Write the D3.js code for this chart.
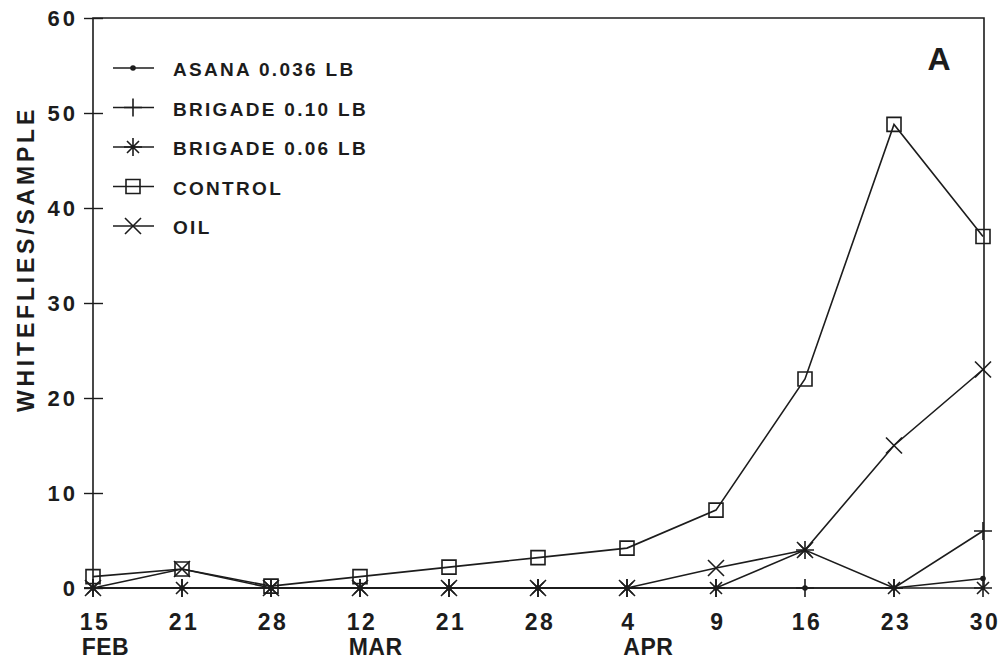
<!DOCTYPE html>
<html>
<head>
<meta charset="utf-8">
<script src="https://cdn.jsdelivr.net/npm/d3@7"></script>
<style>
  body { margin: 0; background: #fff; }
  text { font-family: "Liberation Sans", Arial, sans-serif; font-weight: bold; fill: #1c1c1c; }
</style>
</head>
<body>
<div id="vis"></div>
<script>
// sample dates (evenly spaced on the axis)
var days = ['15', '21', '28', '12', '21', '28', '4', '9', '16', '23', '30'];
var months = ['FEB', '', '', 'MAR', '', '', 'APR', '', '', '', ''];
var yTicks = [0, 10, 20, 30, 40, 50, 60];

// whiteflies per sample
var asana = [0, 0, 0, 0, 0, 0, 0, 0, 0, 0, 1];
var brigade10 = [0, 0, 0, 0, 0, 0, 0, 0, 0, 0, 6];
var brigade06 = [0, 0, 0, 0, 0, 0, 0, 0, 4, 0, 0];
var control = [1.2, 2, 0.2, 1.2, 2.2, 3.2, 4.2, 8.2, 22, 48.8, 37];
var oil = [0, 2, 0, 0, 0, 0, 0, 2.1, 4, 15, 23];

var seriesNames = ['ASANA 0.036 LB', 'BRIGADE 0.10 LB', 'BRIGADE 0.06 LB', 'CONTROL', 'OIL'];
var seriesMarks = ['dot', 'plus', 'star', 'square', 'cross'];

var width = 1002;
var height = 660;
var ink = '#1c1c1c';
var font = '"Liberation Sans", Arial, sans-serif';

var svg = d3.select('#vis').append('svg')
  .attr('width', width)
  .attr('height', height);

var x = d3.scalePoint()
  .domain(d3.range(days.length))
  .range([93, 983]);

var y = d3.scaleLinear()
  .domain([0, 60])
  .range([588, 18]);

// marker shapes as path strings, centred on 0,0
function markPath(kind) {
  if (kind === 'plus') return 'M-9,0H9M0,-9V9';
  if (kind === 'cross') return 'M-8,-8L8,8M-8,8L8,-8';
  if (kind === 'star') return 'M-9,0H9M0,-9V9M-6,-6L6,6M-6,6L6,-6';
  if (kind === 'square') return 'M-7,-7H7V7H-7Z';
  return '';
}

function drawMark(g, kind, cx, cy) {
  if (kind === 'dot') {
    g.append('circle')
      .attr('cx', cx).attr('cy', cy).attr('r', 2.8)
      .attr('fill', ink);
  } else {
    g.append('path')
      .attr('d', markPath(kind))
      .attr('transform', 'translate(' + cx + ',' + cy + ')')
      .attr('fill', 'none')
      .attr('stroke', ink)
      .attr('stroke-width', 1.6);
  }
}

// frame
svg.append('path')
  .attr('d', 'M' + x(0) + ',' + y(0) + 'V' + y(60) + 'H' + (x(10) + 1) + 'V' + y(0))
  .attr('fill', 'none')
  .attr('stroke', ink)
  .attr('stroke-width', 1.6);

// y axis: ticks cross the axis line
var yAxis = svg.append('g')
  .attr('transform', 'translate(' + x(0) + ',0)')
  .call(d3.axisLeft(y).tickValues(yTicks).tickSize(0).tickPadding(15));
yAxis.select('.domain').remove();
yAxis.selectAll('.tick').append('line')
  .attr('x1', -9).attr('x2', 10)
  .attr('stroke', ink).attr('stroke-width', 1.4);
yAxis.selectAll('.tick text')
  .style('font-size', '22px')
  .style('letter-spacing', '3px')
  .style('font-family', font)
  .style('font-weight', 'bold')
  .attr('fill', ink);

// x axis labels (days and months)
var xAxis = svg.append('g')
  .attr('transform', 'translate(0,' + y(0) + ')')
  .call(d3.axisBottom(x).tickFormat(function (i) { return days[i]; }).tickSize(0).tickPadding(26));
xAxis.select('.domain').remove();
xAxis.selectAll('.tick text')
  .attr('dx', 1.5)
  .style('font-size', '23px')
  .style('letter-spacing', '2.5px')
  .style('font-family', font)
  .style('font-weight', 'bold')
  .attr('fill', ink);

xAxis.selectAll('.tick').each(function (i) {
  if (!months[i]) return;
  var bb = d3.select(this).select('text').node().getBBox();
  d3.select(this).append('text')
    .attr('x', bb.x + 2)
    .attr('y', 67)
    .attr('text-anchor', 'start')
    .attr('fill', ink)
    .style('font-size', '23px')
    .style('letter-spacing', '0.5px')
    .text(months[i]);
});

// y title
svg.append('text')
  .attr('transform', 'translate(34,259) rotate(-90)')
  .attr('text-anchor', 'middle')
  .style('font-size', '23px')
  .style('letter-spacing', '3.8px')
  .text('WHITEFLIES/SAMPLE');

// panel letter
svg.append('text')
  .attr('x', 939)
  .attr('y', 70)
  .attr('text-anchor', 'middle')
  .style('font-size', '32px')
  .text('A');

// series lines and markers
var allSeries = [asana, brigade10, brigade06, control, oil];
var line = d3.line()
  .x(function (d, i) { return x(i); })
  .y(function (d) { return y(d); });

allSeries.forEach(function (vals, s) {
  var g = svg.append('g');
  g.append('path')
    .attr('d', line(vals))
    .attr('fill', 'none')
    .attr('stroke', ink)
    .attr('stroke-width', 1.6);
  vals.forEach(function (v, i) {
    drawMark(g, seriesMarks[s], x(i), y(v));
  });
});

// legend
var legend = svg.append('g');
seriesNames.forEach(function (name, s) {
  var ly = 68 + s * 39.5;
  var g = legend.append('g');
  g.append('line')
    .attr('x1', 113).attr('x2', 154)
    .attr('y1', ly).attr('y2', ly)
    .attr('stroke', ink).attr('stroke-width', 1.6);
  drawMark(g, seriesMarks[s], 133, ly);
  g.append('text')
    .attr('x', 173)
    .attr('y', ly + 8)
    .style('font-size', '19px')
    .style('letter-spacing', '2.3px')
    .text(name);
});
</script>
</body>
</html>
